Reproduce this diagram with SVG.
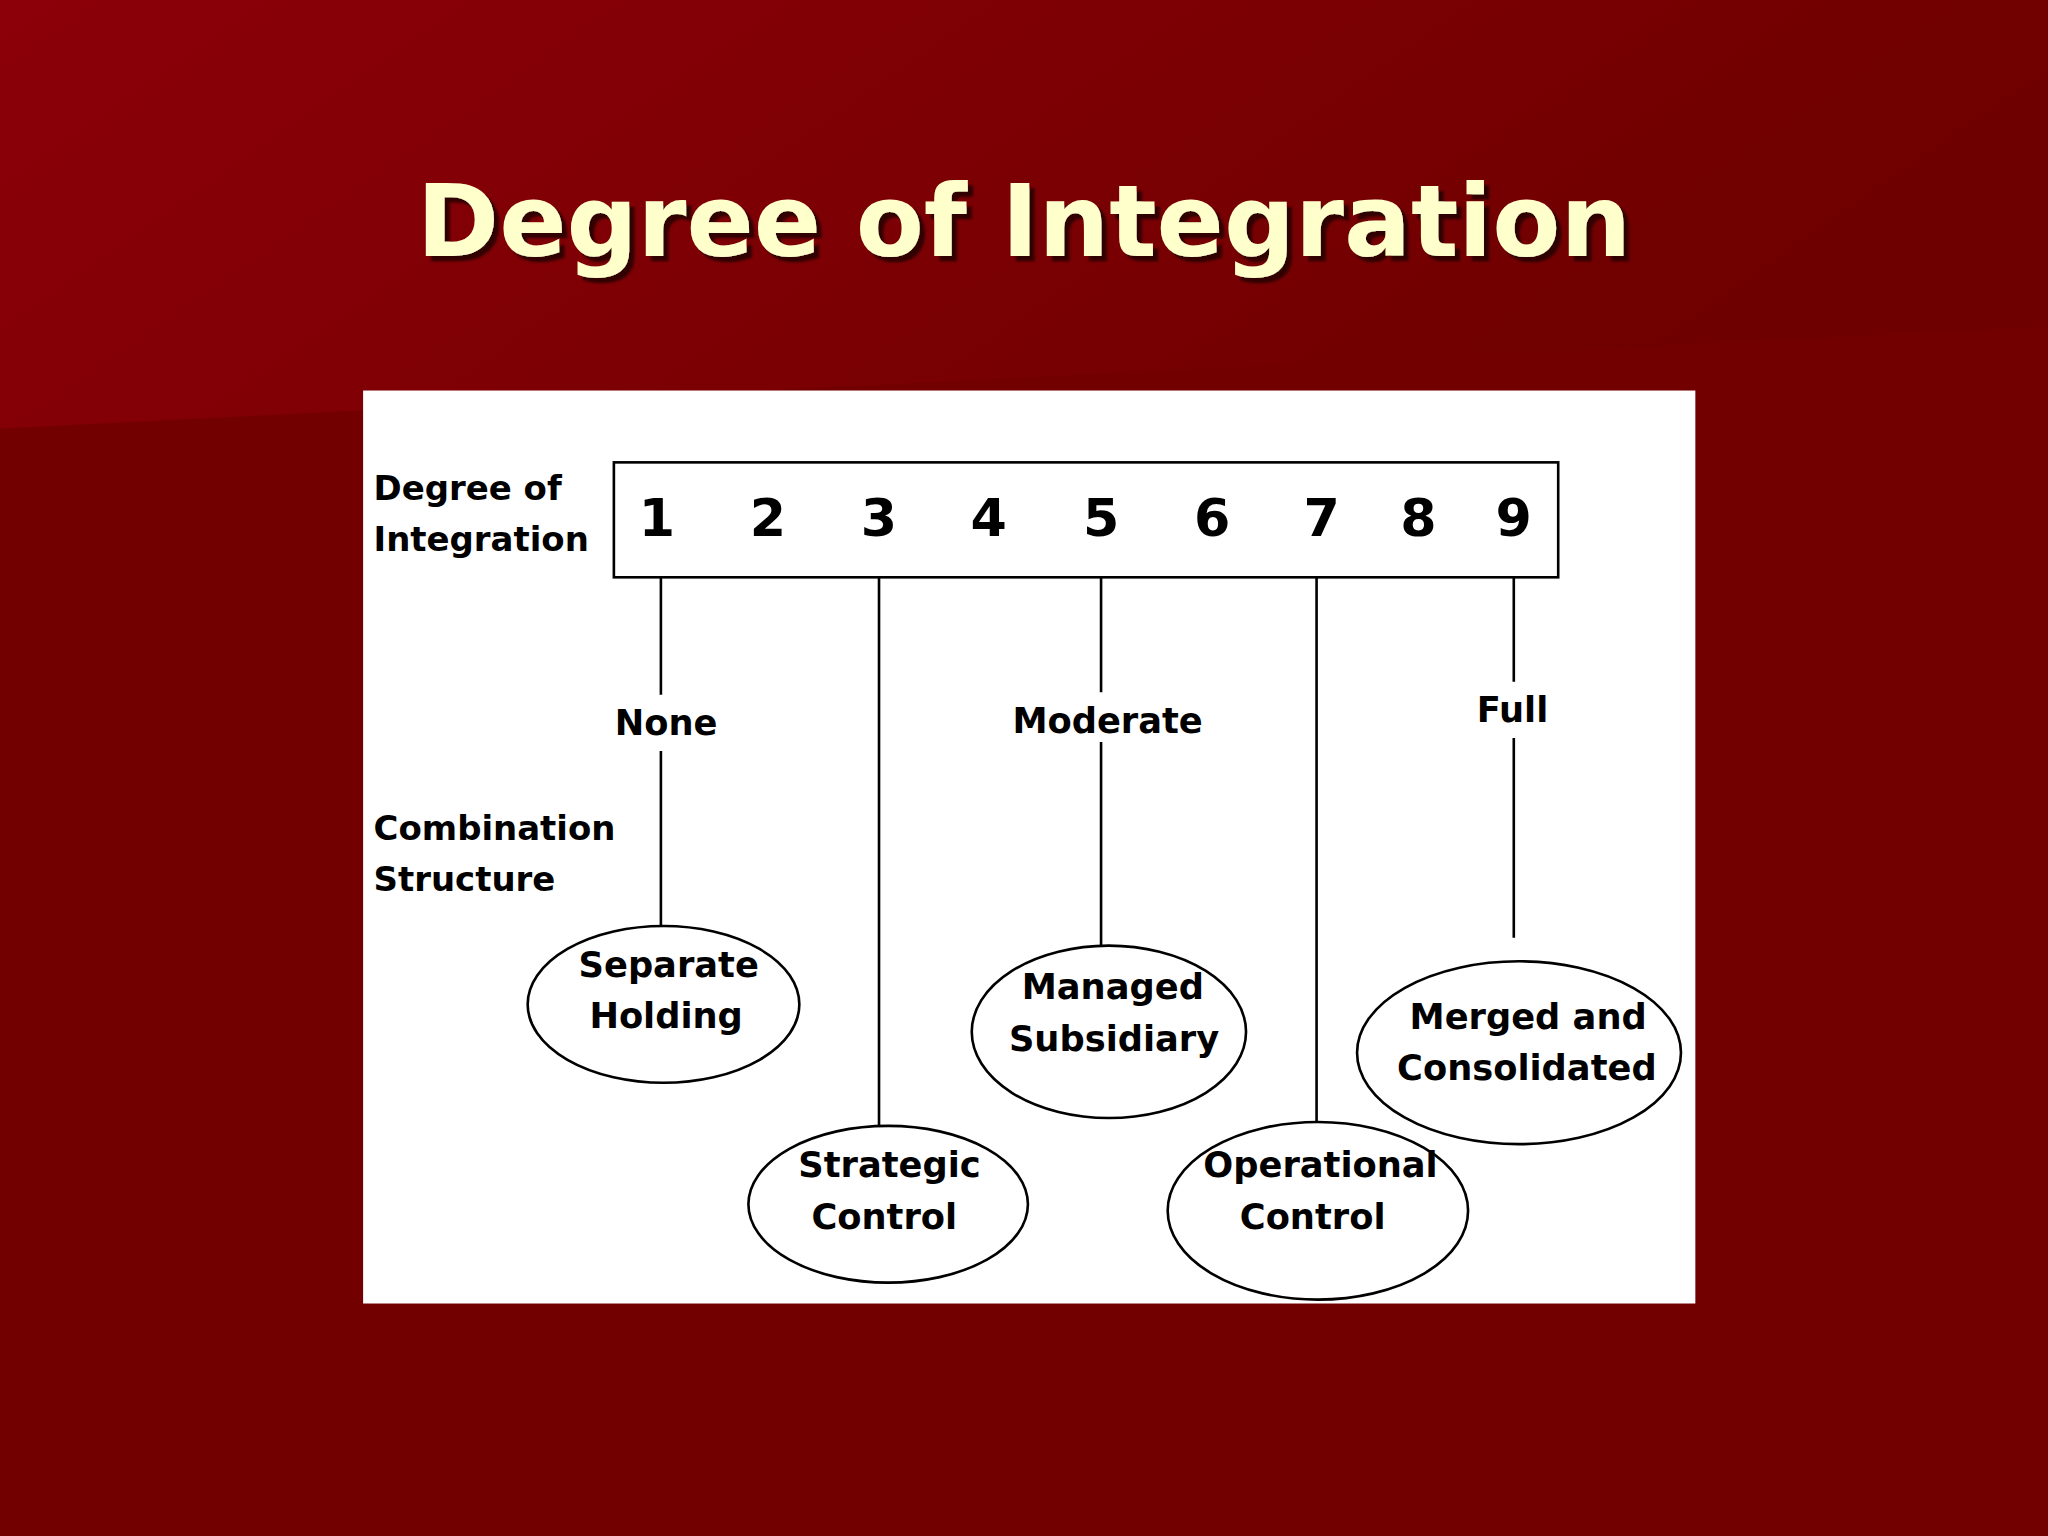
<svg xmlns="http://www.w3.org/2000/svg" width="2048" height="1536" viewBox="0 0 2048 1536">
<defs>
<linearGradient id="top" x1="0" y1="0" x2="1" y2="0.3"><stop offset="0" stop-color="#8c0008"/><stop offset="1" stop-color="#6e0000"/></linearGradient>
<filter id="sh" x="-5%" y="-20%" width="110%" height="140%"><feDropShadow dx="4" dy="4" stdDeviation="1" flood-color="#2a0000" flood-opacity="0.9"/></filter>
<style>
.t{font-family:"DejaVu Sans",sans-serif;font-weight:bold;fill:#000}
.n{font-size:40px;text-anchor:middle}
.l{font-size:26px}
.c{font-size:27px;text-anchor:middle}
.ln{stroke:#000;stroke-width:2;fill:none}
.el{stroke:#000;stroke-width:2;fill:#fff}
</style>
</defs>
<rect width="2048" height="1536" fill="#730000"/>
<g transform="scale(1.30612)">
<polygon points="0,0 1568,0 1568,250 0,328" fill="url(#top)"/>
<text x="784" y="196" font-family="DejaVu Sans,sans-serif" font-weight="bold" font-size="76" text-anchor="middle" fill="#ffffcc" filter="url(#sh)">Degree of Integration</text>
<rect x="278" y="299" width="1020" height="699" fill="#fff"/>
<g id="scale">
<rect x="470" y="354" width="723" height="88" class="ln"/>
<text class="t n" y="410"><tspan x="503">1</tspan><tspan x="588">2</tspan><tspan x="673">3</tspan><tspan x="757">4</tspan><tspan x="843">5</tspan><tspan x="928">6</tspan><tspan x="1012">7</tspan><tspan x="1086">8</tspan><tspan x="1159">9</tspan></text>
</g>
<g id="labels">
<text class="t l" x="286" y="383">Degree of</text>
<text class="t l" x="286" y="422">Integration</text>
<text class="t l" x="286" y="643">Combination</text>
<text class="t l" x="286" y="682">Structure</text>
</g>
<g id="connectors">
<path class="ln" d="M506 442V532M506 575V712M673 442V863M843 442V530M843 568V724M1008 442V859M1159 442V522M1159 565V718"/>
<text class="t c" x="510" y="563">None</text>
<text class="t c" x="848" y="561">Moderate</text>
<text class="t c" x="1158" y="553">Full</text>
</g>
<g id="separate"><ellipse class="el" cx="508" cy="769" rx="104" ry="60"/><text class="t c" x="512" y="748">Separate</text><text class="t c" x="510" y="787">Holding</text></g>
<g id="strategic"><ellipse class="el" cx="680" cy="922" rx="107" ry="60"/><text class="t c" x="681" y="901">Strategic</text><text class="t c" x="677" y="941">Control</text></g>
<g id="managed"><ellipse class="el" cx="849" cy="790" rx="105" ry="66"/><text class="t c" x="852" y="765">Managed</text><text class="t c" x="853" y="805">Subsidiary</text></g>
<g id="operational"><ellipse class="el" cx="1009" cy="927" rx="115" ry="68"/><text class="t c" x="1011" y="901">Operational</text><text class="t c" x="1005" y="941">Control</text></g>
<g id="merged"><ellipse class="el" cx="1163" cy="806" rx="124" ry="70"/><text class="t c" x="1170" y="788">Merged and</text><text class="t c" x="1169" y="827">Consolidated</text></g>
</g>
</svg>
